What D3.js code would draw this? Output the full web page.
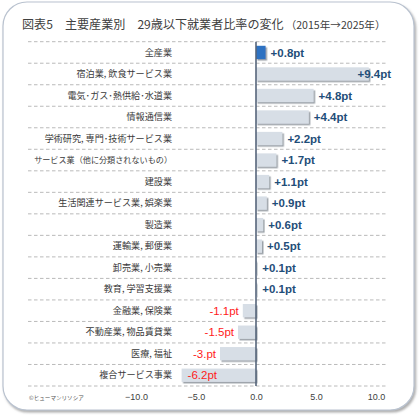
<!DOCTYPE html>
<meta charset="utf-8">
<style>
    body { margin: 0; background: #fff; }
    text { font-family: "Noto Sans CJK JP", sans-serif; }
    .cat { font-size: 9.1px; fill: #3a3a3a; }
    .val { font-family: "Liberation Sans", Arial, sans-serif; font-size: 11.5px; font-weight: bold; }
    .val.neg { font-weight: normal; font-size: 11.5px; }
    .tick text { font-family: "Liberation Sans", Arial, sans-serif; font-size: 9px; fill: #404040; }
</style>
<body>
<script src="https://cdn.jsdelivr.net/npm/d3@7/dist/d3.min.js"></script>
<div id="chart"></div>
<script>
    var categories = ["全産業", "宿泊業, 飲食サービス業", "電気･ガス･熱供給･水道業", "情報通信業",
        "学術研究, 専門･技術サービス業", "サービス業（他に分類されないもの）", "建設業",
        "生活関連サービス業, 娯楽業", "製造業", "運輸業, 郵便業", "卸売業, 小売業",
        "教育, 学習支援業", "金融業, 保険業", "不動産業, 物品賃貸業", "医療, 福祉", "複合サービス事業"];
    var values = [0.8, 9.4, 4.8, 4.4, 2.2, 1.7, 1.1, 0.9, 0.6, 0.5, 0.1, 0.1, -1.1, -1.5, -3.0, -6.2];
    var valueLabels = ["+0.8pt", "+9.4pt", "+4.8pt", "+4.4pt", "+2.2pt", "+1.7pt", "+1.1pt", "+0.9pt",
        "+0.6pt", "+0.5pt", "+0.1pt", "+0.1pt", "-1.1pt", "-1.5pt", "-3.pt", "-6.2pt"];
    var tickValues = [-10, -5, 0, 5, 10];

    var width = 420, height = 420;
    var svg = d3.select("#chart").append("svg")
        .attr("width", width)
        .attr("height", height);

    // shadows
    var defs = svg.append("defs");
    defs.append("filter").attr("id", "frameShadow")
        .attr("x", "-5%").attr("y", "-5%").attr("width", "110%").attr("height", "110%")
        .append("feDropShadow")
        .attr("dx", 1.5).attr("dy", 2).attr("stdDeviation", 1.2)
        .attr("flood-color", "#777").attr("flood-opacity", 0.6);
    defs.append("filter").attr("id", "barShadow")
        .attr("x", "-20%").attr("y", "-30%").attr("width", "140%").attr("height", "160%")
        .append("feDropShadow")
        .attr("dx", 1.5).attr("dy", 1.5).attr("stdDeviation", 0.6)
        .attr("flood-color", "#7a828c").attr("flood-opacity", 0.75);

    svg.append("rect")
        .attr("x", 3).attr("y", 2)
        .attr("width", 411).attr("height", 408)
        .attr("rx", 24).attr("ry", 24)
        .style("fill", "#fff")
        .style("stroke", "#b9c2cf")
        .style("stroke-width", 1.2)
        .attr("filter", "url(#frameShadow)");

    // fit a text to a target width by scaling its font size
    function fitWidth(sel, target) {
        var base = parseFloat(sel.style("font-size"));
        var w = sel.node().getComputedTextLength();
        sel.style("font-size", (base * target / w) + "px");
        return sel.node().getComputedTextLength();
    }

    // title (two pieces, the year range is set smaller)
    var titleMain = svg.append("text")
        .attr("x", 22).attr("y", 29)
        .style("fill", "#404040")
        .style("font-size", "13px")
        .text("図表5　主要産業別　29歳以下就業者比率の変化");
    var mainW = fitWidth(titleMain, 262);
    var titleSub = svg.append("text")
        .attr("x", 22 + mainW + 2).attr("y", 29)
        .style("fill", "#404040")
        .style("font-size", "10.5px")
        .text("（2015年→2025年）");
    fitWidth(titleSub, 100);

    var x = d3.scaleLinear().domain([-19, 11]).range([28, 388]);
    var y = d3.scaleBand().domain(categories).range([41.7, 386])
        .paddingInner(0.38).paddingOuter(0.19);

    // dashed gridlines between rows
    var step = y.step();
    svg.append("g").selectAll("line")
        .data(d3.range(categories.length + 1))
        .enter().append("line")
        .attr("x1", x.range()[0]).attr("x2", x.range()[1])
        .attr("y1", (d) => y.range()[0] + d * step)
        .attr("y2", (d) => y.range()[0] + d * step)
        .style("stroke", "#a8a8a8")
        .style("stroke-width", 0.8)
        .style("stroke-dasharray", "3.5,2.5");

    // bars
    svg.append("g").selectAll("rect")
        .data(values)
        .enter().append("rect")
        .attr("x", (d) => x(Math.min(0, d)))
        .attr("y", (d, i) => y(categories[i]))
        .attr("width", (d) => Math.abs(x(d) - x(0)))
        .attr("height", y.bandwidth())
        .style("fill", (d, i) => i === 0 ? "#2e72c2" : "#d7dee6")
        .attr("filter", "url(#barShadow)");

    // zero line
    svg.append("line")
        .attr("x1", x(0)).attr("x2", x(0))
        .attr("y1", y.range()[0]).attr("y2", y.range()[1])
        .style("stroke", "#56657a")
        .style("stroke-width", 1.6);

    // category labels
    svg.append("g").selectAll("text")
        .data(categories)
        .enter().append("text")
        .attr("class", "cat")
        .attr("x", 172)
        .attr("y", (d) => y(d) + y.bandwidth() / 2)
        .attr("dy", "0.35em")
        .attr("text-anchor", "end")
        .text((d) => d)
        .each(function() {
            // the longest label is set tighter in the original
            if (this.getComputedTextLength() > 140) fitWidth(d3.select(this), 138);
        });

    // value labels
    svg.append("g").selectAll("text")
        .data(values)
        .enter().append("text")
        .attr("class", (d) => d < 0 ? "val neg" : "val")
        .attr("y", (d, i) => y(categories[i]) + y.bandwidth() / 2)
        .attr("dy", "0.36em")
        .style("fill", (d) => d < 0 ? "#ff1a1a" : "#1f4e79")
        .text((d, i) => valueLabels[i])
        .each(function(d) {
            var t = d3.select(this), w = this.getComputedTextLength();
            if (d >= 0) {
                if (x(d) + 5 + w > 391) t.attr("x", 391).attr("text-anchor", "end");
                else t.attr("x", x(d) + 5).attr("text-anchor", "start");
            } else {
                if (x(d) - 4 - w < 180) t.attr("x", x(d) + 6).attr("text-anchor", "start");
                else t.attr("x", x(d) - 4).attr("text-anchor", "end");
            }
        });

    // axis
    var axis = svg.append("g")
        .attr("transform", "translate(0," + (y.range()[1] + 2) + ")")
        .call(d3.axisBottom(x).tickValues(tickValues).tickFormat(d3.format(".1f")).tickSize(0).tickPadding(6));
    axis.select(".domain").remove();

    var credit = svg.append("text")
        .attr("x", 29).attr("y", 400)
        .style("font-size", "7px")
        .style("fill", "#555")
        .text("©ヒューマンリソシア");
    fitWidth(credit, 55);
</script>
</body>
</html>
